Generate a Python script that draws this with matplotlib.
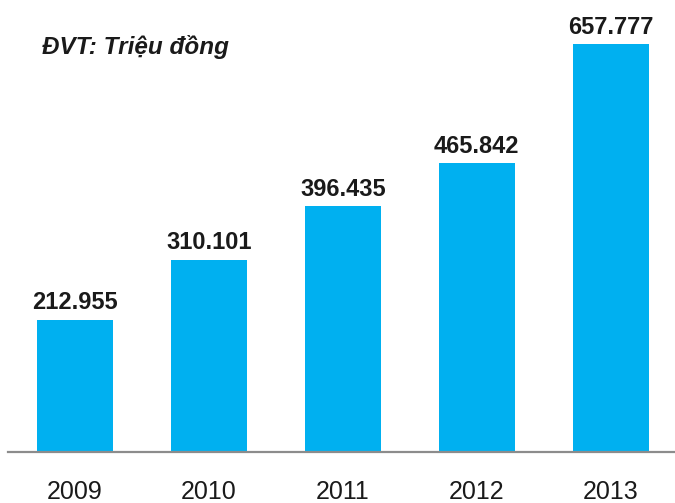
import matplotlib.pyplot as plt

plt.rcParams['font.family'] = ['Liberation Sans', 'DejaVu Sans']

years = ['2009', '2010', '2011', '2012', '2013']
values = [212.955, 310.101, 396.435, 465.842, 657.777]
labels = ['212.955', '310.101', '396.435', '465.842', '657.777']

fig = plt.figure(figsize=(6.75, 5.03), dpi=100)
ax = fig.add_axes([0.012, 0.1014, 0.988, 0.8986])

x = range(len(years))
bars = ax.bar(x, values, width=0.57, color='#00B0F0')

for b, lab in zip(bars, labels):
    ax.annotate(lab, (b.get_x() + b.get_width() / 2, b.get_height()),
                xytext=(0, 4), textcoords='offset points',
                ha='center', va='bottom', fontsize=17, fontweight='bold',
                color='#1a1a1a')

ax.set_xlim(-0.5, 4.48)
ax.set_ylim(0, 729)
ax.set_xticks(list(x))
ax.set_xticklabels(years, fontsize=18, color='#1a1a1a')
ax.tick_params(axis='x', length=0, pad=20)
ax.set_yticks([])
for s in ['top', 'right', 'left']:
    ax.spines[s].set_visible(False)
ax.spines['bottom'].set_color('#8c8c8c')
ax.spines['bottom'].set_linewidth(1.6)

fig.text(42 / 675, 1 - 47 / 503, 'ĐVT: Triệu đồng', fontsize=17.5,
         fontstyle='italic', fontweight='bold', va='center', ha='left',
         color='#1a1a1a')

fig.savefig('out.png', dpi=100)
